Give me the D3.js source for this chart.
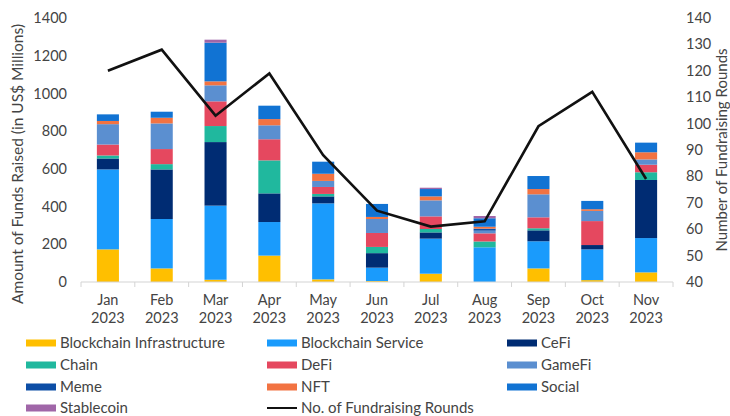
<!DOCTYPE html>
<html>
<head>
<meta charset="utf-8">
<script src="https://cdn.jsdelivr.net/npm/d3@7"></script>
<style>
  body { margin: 0; background: #fff; }
  svg { font-family: Lato, "Open Sans", sans-serif; }
</style>
</head>
<body>
<svg id="chart" width="730" height="416"></svg>
<script>
const months = ["Jan", "Feb", "Mar", "Apr", "May", "Jun", "Jul", "Aug", "Sep", "Oct", "Nov"];
const year = "2023";

const categories = ["Blockchain Infrastructure", "Blockchain Service", "CeFi", "Chain", "DeFi",
  "GameFi", "Meme", "NFT", "Social", "Stablecoin"];
const colors = ["#ffbf00", "#1a9bfc", "#002c73", "#20b89e", "#e5485f",
  "#5b8fd0", "#0d4ea6", "#f27342", "#1173d3", "#a066a8"];

// US$ millions per month
const blockchainInfra = [173, 72, 12, 140, 14, 5, 44, 0, 72, 10, 51];
const blockchainService = [424, 262, 393, 178, 403, 71, 186, 184, 144, 163, 182];
const cefi = [58, 263, 337, 152, 37, 77, 33, 0, 58, 23, 308];
const chain = [16, 28, 85, 175, 13, 33, 18, 31, 11, 0, 41];
const defi = [58, 80, 131, 112, 37, 74, 67, 43, 58, 127, 40];
const gamefi = [108, 136, 85, 74, 32, 74, 85, 14, 122, 54, 28];
const meme = [0, 0, 0, 0, 0, 0, 0, 11, 0, 0, 0];
const nft = [17, 30, 21, 33, 38, 11, 21, 10, 28, 9, 38];
const social = [35, 32, 205, 71, 64, 69, 39, 45, 69, 44, 51];
const stablecoin = [0, 0, 16, 0, 0, 0, 7, 12, 0, 0, 0];

const rounds = [120, 128, 103, 119, 88, 67, 61, 63, 99, 112, 79];
const lineLabel = "No. of Fundraising Rounds";

const leftTicks = [0, 200, 400, 600, 800, 1000, 1200, 1400];
const rightTicks = [40, 50, 60, 70, 80, 90, 100, 110, 120, 130, 140];

const series = [blockchainInfra, blockchainService, cefi, chain, defi, gamefi, meme, nft, social, stablecoin];
const table = months.map((m, i) => {
  const row = {month: m};
  categories.forEach((c, j) => (row[c] = series[j][i]));
  return row;
});

const svg = d3.select("#chart");
const textColor = "#444";

const x = d3.scaleBand().domain(months).range([81, 673]).paddingInner(0.59).paddingOuter(0.295);
const y = d3.scaleLinear().domain([0, 1400]).range([282, 18]);
const y2 = d3.scaleLinear().domain([40, 140]).range([282, 18]);
const color = d3.scaleOrdinal(categories, colors);

const stacked = d3.stack().keys(categories)(table);

svg.append("g")
  .selectAll("g")
  .data(stacked)
  .join("g")
  .attr("fill", (d) => color(d.key))
  .selectAll("rect")
  .data((d) => d)
  .join("rect")
  .attr("x", (d) => x(d.data.month))
  .attr("width", x.bandwidth())
  .attr("y", (d) => y(d[1]))
  .attr("height", (d) => y(d[0]) - y(d[1]));

// x axis: baseline with ticks between categories
const xAxis = svg.append("g").attr("transform", "translate(0,282)");
xAxis.append("line").attr("x1", 81).attr("x2", 673).attr("stroke", "#d4d4d4").attr("stroke-width", 1.2);
const step = x.step();
xAxis.selectAll("line.tick")
  .data(d3.range(months.length + 1))
  .join("line")
  .attr("class", "tick")
  .attr("x1", (i) => 81 + i * step)
  .attr("x2", (i) => 81 + i * step)
  .attr("y1", 0)
  .attr("y2", 5)
  .attr("stroke", "#d4d4d4");
const xl = xAxis.selectAll("text")
  .data(months)
  .join("text")
  .attr("x", (d) => x(d) + x.bandwidth() / 2)
  .attr("text-anchor", "middle")
  .attr("fill", textColor)
  .attr("font-size", 14.5);
xl.append("tspan").attr("x", (d) => x(d) + x.bandwidth() / 2).attr("y", 23).text((d) => d);
xl.append("tspan").attr("x", (d) => x(d) + x.bandwidth() / 2).attr("y", 41).text(year);

// left axis
svg.append("g")
  .selectAll("text")
  .data(leftTicks)
  .join("text")
  .attr("x", 67)
  .attr("y", (d) => y(d))
  .attr("dy", "0.35em")
  .attr("text-anchor", "end")
  .attr("fill", textColor)
  .attr("font-size", 14.5)
  .text((d) => d);

// right axis
svg.append("g")
  .selectAll("text")
  .data(rightTicks)
  .join("text")
  .attr("x", 686)
  .attr("y", (d) => y2(d))
  .attr("dy", "0.35em")
  .attr("text-anchor", "start")
  .attr("fill", textColor)
  .attr("font-size", 14.5)
  .text((d) => d);

svg.append("text")
  .attr("transform", "translate(23,164) rotate(-90)")
  .attr("text-anchor", "middle")
  .attr("fill", textColor)
  .attr("font-size", 15.5)
  .text("Amount of Funds Raised (in US$ Millions)");

svg.append("text")
  .attr("transform", "translate(727,150) rotate(-90)")
  .attr("text-anchor", "middle")
  .attr("fill", textColor)
  .attr("font-size", 15)
  .text("Number of Fundraising Rounds");

// line
const line = d3.line()
  .x((d, i) => x(months[i]) + x.bandwidth() / 2)
  .y((d) => y2(d));
svg.append("path")
  .datum(rounds)
  .attr("d", line)
  .attr("fill", "none")
  .attr("stroke", "#111")
  .attr("stroke-width", 2.6)
  .attr("stroke-linejoin", "miter");

// legend
const legendItems = categories.map((c) => ({label: c, color: color(c), type: "rect"}))
  .concat([{label: lineLabel, color: "#111", type: "line"}]);
const colX = [26, 267, 507];
const rowY = [343, 365, 387, 408];
const legend = svg.append("g")
  .selectAll("g")
  .data(legendItems)
  .join("g")
  .attr("transform", (d, i) => `translate(${colX[i % 3]},${rowY[Math.floor(i / 3)]})`);
legend.filter((d) => d.type === "rect")
  .append("rect")
  .attr("x", 0).attr("y", -3.5).attr("width", 30).attr("height", 7)
  .attr("fill", (d) => d.color);
legend.filter((d) => d.type === "line")
  .append("line")
  .attr("x1", 0).attr("x2", 30).attr("y1", 0).attr("y2", 0)
  .attr("stroke", (d) => d.color).attr("stroke-width", 2);
legend.append("text")
  .attr("x", 34)
  .attr("dy", "0.35em")
  .attr("fill", textColor)
  .attr("font-size", 15)
  .text((d) => d.label);
</script>
</body>
</html>
